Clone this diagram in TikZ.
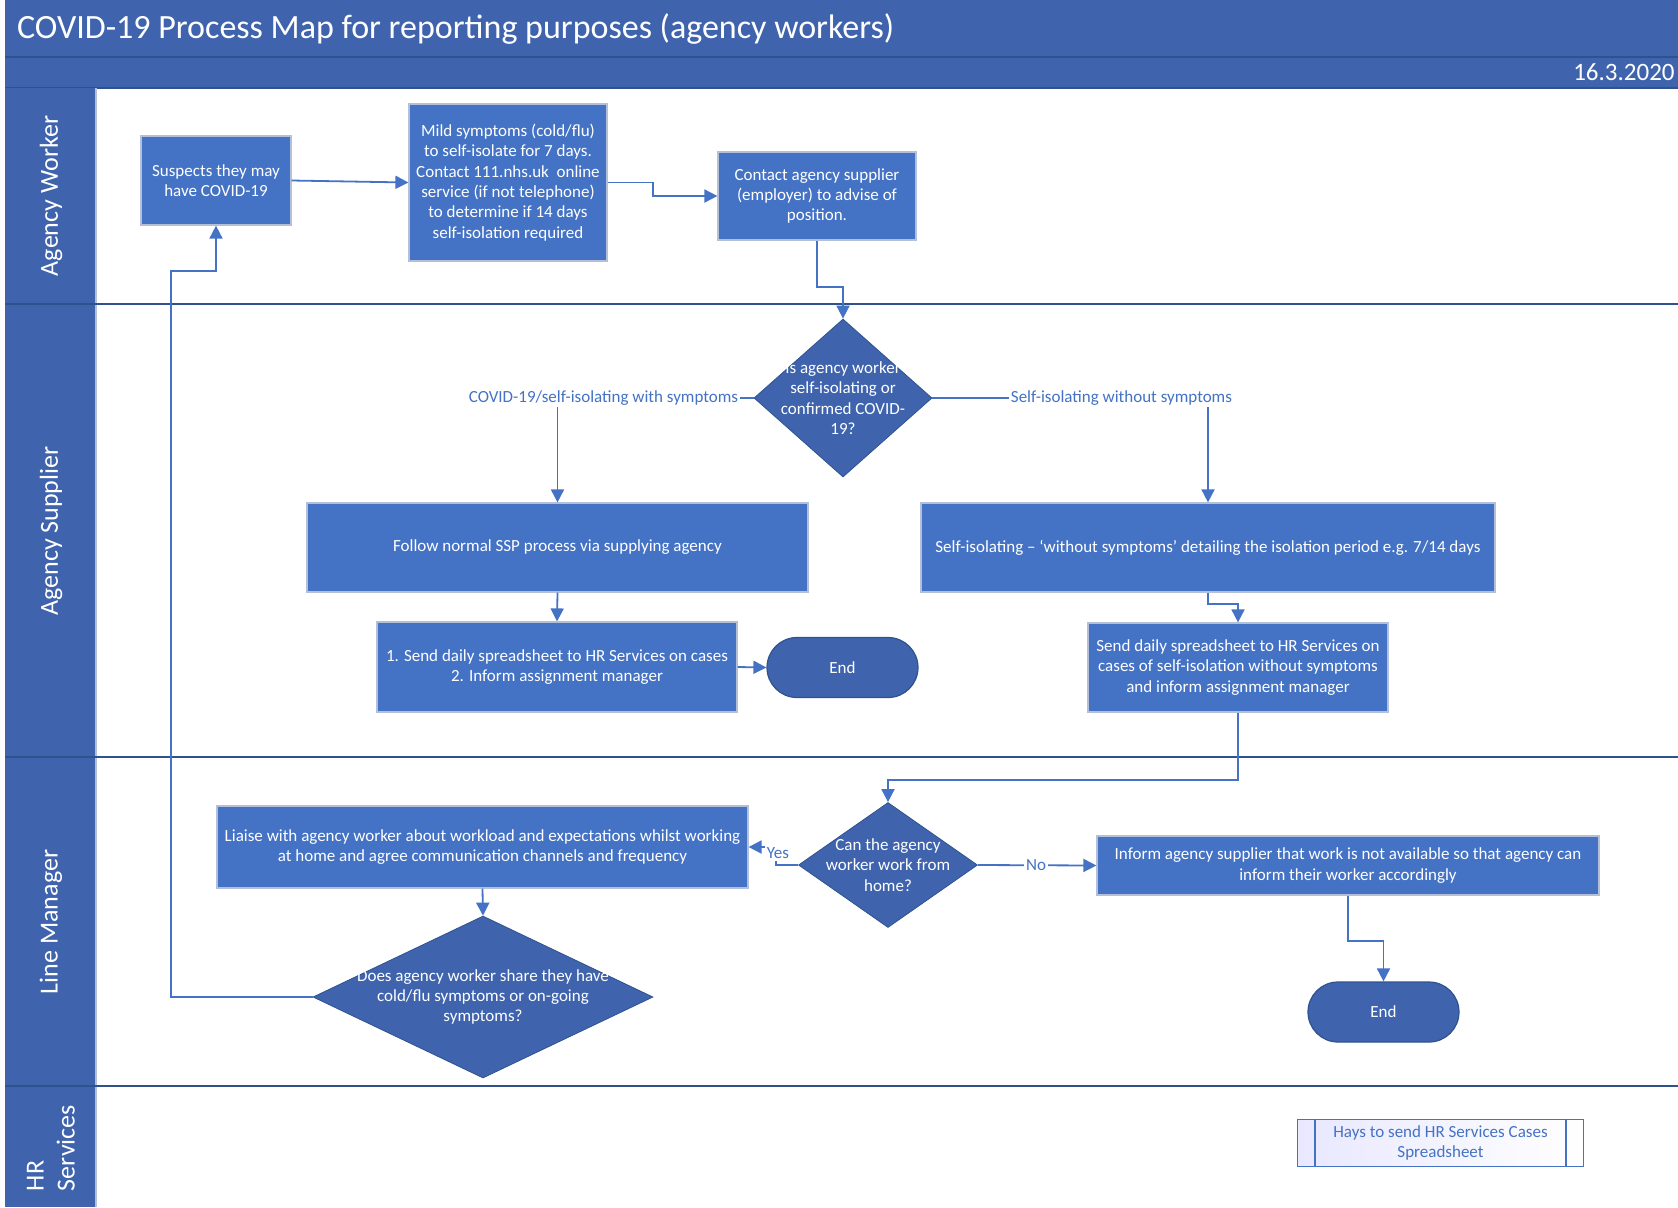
\documentclass[tikz,border=0pt]{standalone}
\usepackage{fontspec}
\setmainfont{Carlito}
\usetikzlibrary{shapes.geometric,arrows.meta}
\definecolor{boxblue}{HTML}{4472C4}
\definecolor{darkblue}{HTML}{3F64AD}
\definecolor{lineblue}{HTML}{2F528F}
\definecolor{boxedge}{HTML}{B4C0D8}
\begin{document}
\begin{tikzpicture}[x=0.5pt,y=-0.5pt,
  box/.style={rectangle, fill=boxblue, draw=boxedge, line width=0.6pt, text=white,
    font=\fontsize{8.5}{10.2}\selectfont, align=center, inner sep=2pt},
  dec/.style={diamond, fill=darkblue, draw=lineblue, line width=0.4pt, inner sep=0pt},
  dtext/.style={text=white, font=\fontsize{8.5}{10.2}\selectfont, align=center, inner sep=0pt},
  endnode/.style={rectangle, rounded corners=15pt, fill=darkblue, draw=lineblue, line width=0.6pt,
    text=white, font=\fontsize{8.5}{10.2}\selectfont, minimum width=75.5pt, minimum height=30pt},
  conn/.style={draw=boxblue, line width=0.9pt, -{Triangle[length=6.5pt,width=6.5pt]}},
  lbl/.style={fill=white, text=boxblue, font=\fontsize{8.5}{10.2}\selectfont, inner sep=1pt},
  lane/.style={text=white, font=\fontsize{13}{15.5}\selectfont, rotate=90}
]
\useasboundingbox (0,0) rectangle (1678,1207);
% header bars
\fill[darkblue] (5,0) rectangle (1678,88);
\draw[lineblue, line width=1pt] (5,57) -- (1678,57);
\draw[lineblue, line width=1pt] (5,88) -- (1678,88);
\node[anchor=west, text=white, font=\fontsize{17}{20}\selectfont] (title) at (10,29) {COVID-19 Process Map for reporting purposes (agency workers)};
\node[anchor=east, text=white, font=\fontsize{12.5}{15}\selectfont, inner sep=0pt] (date) at (1675,72) {16.3.2020};
% lane header column
\fill[darkblue] (5,88) rectangle (96,1207);
\draw[boxedge, line width=0.6pt] (96,88) -- (96,1207);
\foreach \yy in {304,757,1086}{\draw[lineblue, line width=1pt] (5,\yy) -- (1678,\yy);}
\node[lane] (l1) at (51,196) {Agency Worker};
\node[lane] (l2) at (51,531) {Agency Supplier};
\node[lane] (l3) at (51,922) {Line Manager};
\node[lane, align=left] (l4) at (51,1148) {HR\\Services};
% agency worker lane
\node[box, minimum width=75pt, minimum height=44.5pt] (suspect) at (216,180.5) {Suspects they may\\have COVID-19};
\node[box, minimum width=99pt, minimum height=78.5pt] (mild) at (508,182.5) {Mild symptoms (cold/flu)\\to self-isolate for 7 days.\\Contact 111.nhs.uk\ \ online\\service (if not telephone)\\to determine if 14 days\\self-isolation required};
\node[box, minimum width=99pt, minimum height=44pt] (contact) at (817,196) {Contact agency supplier\\(employer) to advise of\\position.};
% agency supplier lane
\node[dec, minimum width=89pt, minimum height=79pt] (q1) at (843,398) {};
\node[dtext] (q1t) at (q1) {Is agency worker\\self-isolating or\\confirmed COVID-\\19?};
\node[box, minimum width=250.5pt, minimum height=44.5pt] (ssp) at (557.5,547.5) {Follow normal SSP process via supplying agency};
\node[box, minimum width=287pt, minimum height=44.5pt] (selfiso) at (1208,547.5) {Self-isolating – ‘without symptoms’ detailing the isolation period e.g. 7/14 days};
\node[box, minimum width=180pt, minimum height=45pt] (send1) at (557,667) {1. Send daily spreadsheet to HR Services on cases\\2. Inform assignment manager};
\node[endnode] (end1) at (842.5,667.5) {End};
\node[box, minimum width=150pt, minimum height=44.5pt] (send2) at (1238,667.5) {Send daily spreadsheet to HR Services on\\cases of self-isolation without symptoms\\and inform assignment manager};
% line manager lane
\node[dec, minimum width=89.5pt, minimum height=62.5pt] (q2) at (888,865) {};
\node[dtext] (q2t) at (q2) {Can the agency\\worker work from\\home?};
\node[box, minimum width=265.5pt, minimum height=41pt] (liaise) at (482.5,847) {Liaise with agency worker about workload and expectations whilst working\\at home and agree communication channels and frequency};
\node[box, minimum width=251pt, minimum height=29.5pt] (inform) at (1348,865.5) {Inform agency supplier that work is not available so that agency can\\inform their worker accordingly};
\node[endnode] (end2) at (1383.5,1012) {End};
\node[dec, minimum width=170pt, minimum height=81pt] (q3) at (483,997) {};
\node[dtext] (q3t) at (q3) {Does agency worker share they have\\cold/flu symptoms or on-going\\symptoms?};
% HR services lane
\node[rectangle, draw=boxblue, line width=0.8pt, left color=blue!9, right color=white,
  minimum width=143pt, minimum height=23.5pt, text=boxblue, align=center,
  font=\fontsize{8.5}{10.2}\selectfont, inner sep=1pt] (hays) at (1440.5,1143) {Hays to send HR Services Cases\\Spreadsheet};
\draw[boxblue, line width=0.8pt] (hays.north west) ++(18.5,0) -- ++(0,47);
\draw[boxblue, line width=0.8pt] (hays.north east) ++(-18.5,0) -- ++(0,47);
% connectors
\draw[conn] (suspect.east) -- (mild.west);
\draw[conn] (mild.east) -- ++(45,0) |- (contact.west);
\draw[conn] (contact.south) -- ++(0,46) -| (q1.north);
\draw[conn] (q1.west) -| (ssp.north);
\node[lbl] (lbla) at (603.5,398) {COVID-19/self-isolating with symptoms};
\draw[conn] (q1.east) -| (selfiso.north);
\node[lbl] (lblb) at (1121.5,398) {Self-isolating without symptoms};
\draw[conn] (ssp.south) -- (send1.north);
\draw[conn] (send1.east) -- (end1.west);
\draw[conn] (selfiso.south) -- ++(0,11) -| (send2.north);
\draw[conn] (send2.south) -- ++(0,67) -| (q2.north);
\draw[conn] (q2.west) -- (776,865) |- (liaise.east);
\node[lbl] (lblyes) at (778,853) {Yes};
\draw[conn] (q2.east) -- (inform.west);
\node[lbl] (lblno) at (1036,865) {No};
\draw[conn] (inform.south) -- ++(0,45) -| (end2.north);
\draw[conn] (liaise.south) -- (q3.north);
\draw[conn] (q3.west) -| (171,271) -| (suspect.south);
\end{tikzpicture}
\end{document}
